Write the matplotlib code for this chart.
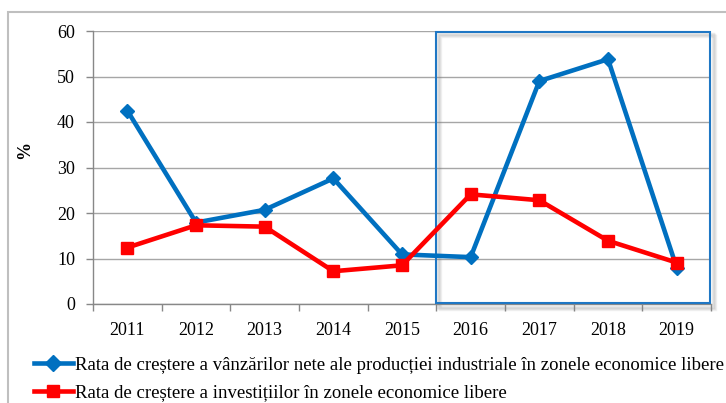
import matplotlib
matplotlib.use("Agg")
import matplotlib.pyplot as plt
from matplotlib.patches import Rectangle
import numpy as np

years = ["2011", "2012", "2013", "2014", "2015", "2016", "2017", "2018", "2019"]
sales_growth = [42.5, 17.9, 20.7, 27.6, 10.9, 10.3, 49.0, 53.8, 8.0]
invest_growth = [12.4, 17.3, 17.0, 7.2, 8.5, 24.1, 22.8, 13.9, 9.1]
label_sales = "Rata de creștere a vânzărilor nete ale producției industriale în zonele economice libere"
label_invest = "Rata de creștere a investițiilor în zonele economice libere"
yticks = [0, 10, 20, 30, 40, 50, 60]

plt.rcParams['font.family'] = ['Liberation Serif', 'DejaVu Serif']

W, H = 726, 403
fig = plt.figure(figsize=(W / 100, H / 100), dpi=100)
fig.patch.set_facecolor("white")

# outer chart frame
fig.patches.append(Rectangle((8 / W, -0.1), 1.2, (H - 12) / H + 0.1,
                             transform=fig.transFigure, fill=False,
                             edgecolor="#BFBFBF", linewidth=1.5))

left, right, top, bottom = 93, 711, 31, 304
ax = fig.add_axes([left / W, 1 - bottom / H, (right - left) / W, (bottom - top) / H])

x = np.arange(len(years))

# highlight box with soft shadow
for dx, alpha in [(0.10, 0.10), (0.07, 0.12), (0.04, 0.15)]:
    ax.add_patch(Rectangle((4.5 + dx * 0.6, -0.3 - dx * 8), 4.0, 60.0,
                           fill=False, edgecolor="#808080", linewidth=2.5,
                           alpha=alpha, zorder=1.5, clip_on=False))
ax.add_patch(Rectangle((4.5, 0.2), 3.98, 59.6, fill=False, edgecolor="#1F77C4",
                       linewidth=1.5, zorder=4, clip_on=False))

ax.plot(x, sales_growth, color="#0070C0", linewidth=3.3, marker="D",
        markersize=7, label=label_sales, zorder=5)
ax.plot(x, invest_growth, color="#FF0000", linewidth=3.3, marker="s",
        markersize=8, label=label_invest, zorder=6)

ax.set_xlim(-0.5, 8.5)
ax.set_ylim(0, 60)
ax.set_yticks(yticks)
ax.set_xticks(x)
ax.set_xticklabels(years)
ax.set_xticks(np.arange(-0.5, 9.0, 1.0), minor=True)
ax.tick_params(axis="x", which="major", length=0, pad=13, labelsize=13)
ax.tick_params(axis="x", which="minor", length=5, color="#888888", width=1)
ax.tick_params(axis="y", length=5, color="#888888", width=1, pad=8, labelsize=13)

ax.grid(axis="y", color="#A6A6A6", linewidth=1)
ax.set_axisbelow(True)
for s in ["top", "right"]:
    ax.spines[s].set_visible(False)
for s in ["left", "bottom"]:
    ax.spines[s].set_color("#888888")
    ax.spines[s].set_linewidth(1)

fig.text(25 / W, 1 - 150 / H, "%", rotation=90, ha="center", va="center",
         fontsize=13, fontweight="bold")

leg = fig.legend(loc="upper left", bbox_to_anchor=(26 / W, 1 - 349 / H),
                 frameon=False, fontsize=13.5, handlelength=2.1,
                 handletextpad=0.1, labelspacing=0.55, borderaxespad=0,
                 markerscale=1.1)

fig.savefig("out.png", dpi=100)
